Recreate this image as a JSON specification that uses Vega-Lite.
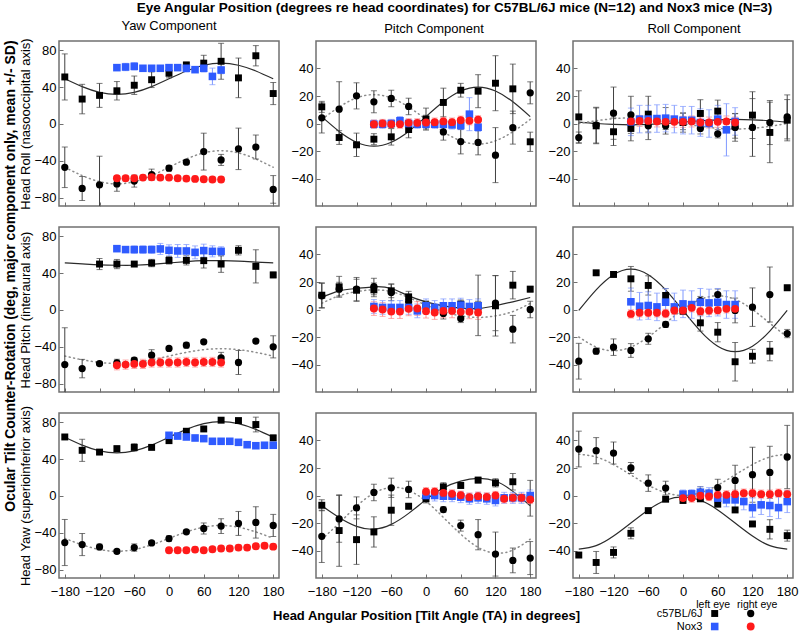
{
"$schema":"https://vega.github.io/schema/vega-lite/v6.json",
"padding":{"left":4,"right":3,"top":0,"bottom":0},
"title":{"text":"Eye Angular Position (degrees re head coordinates) for C57BL/6J mice (N=12) and Nox3 mice (N=3)","fontSize":13.5,"fontWeight":"bold","anchor":"middle","offset":5,"dx":53},
"datasets":{"d":[
{"p":"RY","g":"a","x":-180,"m":51,"s":25},{"p":"RY","g":"a","x":-150,"m":27,"s":16},{"p":"RY","g":"a","x":-120,"m":31,"s":13},{"p":"RY","g":"a","x":-90,"m":36,"s":10},{"p":"RY","g":"a","x":-60,"m":42,"s":10},{"p":"RY","g":"a","x":-30,"m":48,"s":8.5},{"p":"RY","g":"a","x":0,"m":55,"s":5},{"p":"RY","g":"a","x":30,"m":64,"s":3},{"p":"RY","g":"a","x":60,"m":66,"s":8.5},{"p":"RY","g":"a","x":90,"m":68,"s":19.5},{"p":"RY","g":"a","x":120,"m":50,"s":21.5},{"p":"RY","g":"a","x":150,"m":74,"s":11},{"p":"RY","g":"a","x":180,"m":33,"s":12},
{"p":"RY","g":"b","x":-180,"m":-47,"s":22},{"p":"RY","g":"b","x":-150,"m":-70,"s":13},{"p":"RY","g":"b","x":-120,"m":-66,"s":31},{"p":"RY","g":"b","x":-90,"m":-65,"s":8},{"p":"RY","g":"b","x":-60,"m":-62,"s":6.5},{"p":"RY","g":"b","x":-30,"m":-55,"s":6},{"p":"RY","g":"b","x":0,"m":-48,"s":3},{"p":"RY","g":"b","x":30,"m":-41.5,"s":2},{"p":"RY","g":"b","x":60,"m":-30,"s":20},{"p":"RY","g":"b","x":90,"m":-39,"s":6},{"p":"RY","g":"b","x":120,"m":-27,"s":22.5},{"p":"RY","g":"b","x":150,"m":-25,"s":13},{"p":"RY","g":"b","x":180,"m":-71,"s":15},
{"p":"RY","g":"c","x":-90,"m":61.1,"s":3},{"p":"RY","g":"c","x":-75,"m":61.8,"s":4},{"p":"RY","g":"c","x":-60,"m":62.5,"s":4},{"p":"RY","g":"c","x":-45,"m":60.4,"s":2},{"p":"RY","g":"c","x":-30,"m":60.4,"s":2},{"p":"RY","g":"c","x":-15,"m":60.4,"s":2},{"p":"RY","g":"c","x":0,"m":61.1,"s":3},{"p":"RY","g":"c","x":15,"m":61.1,"s":3},{"p":"RY","g":"c","x":30,"m":60.4,"s":4},{"p":"RY","g":"c","x":45,"m":58.9,"s":3},{"p":"RY","g":"c","x":60,"m":60.4,"s":4},{"p":"RY","g":"c","x":75,"m":51.6,"s":9},{"p":"RY","g":"c","x":90,"m":58.5,"s":4},
{"p":"RY","g":"d","x":-90,"m":-58.9,"s":3},{"p":"RY","g":"d","x":-75,"m":-58.9,"s":3},{"p":"RY","g":"d","x":-60,"m":-58.9,"s":3},{"p":"RY","g":"d","x":-45,"m":-58.2,"s":3},{"p":"RY","g":"d","x":-30,"m":-57.8,"s":3},{"p":"RY","g":"d","x":-15,"m":-58.2,"s":3},{"p":"RY","g":"d","x":0,"m":-58.2,"s":3},{"p":"RY","g":"d","x":15,"m":-58.9,"s":3},{"p":"RY","g":"d","x":30,"m":-59.3,"s":3},{"p":"RY","g":"d","x":45,"m":-59.6,"s":3},{"p":"RY","g":"d","x":60,"m":-60,"s":3},{"p":"RY","g":"d","x":75,"m":-60.3,"s":3},{"p":"RY","g":"d","x":90,"m":-60.3,"s":3},
{"p":"RY","g":"L","x":-180,"m":49},{"p":"RY","g":"L","x":-150,"m":40.5},{"p":"RY","g":"L","x":-120,"m":34.3},{"p":"RY","g":"L","x":-90,"m":32},{"p":"RY","g":"L","x":-60,"m":34.3},{"p":"RY","g":"L","x":-30,"m":40.5},{"p":"RY","g":"L","x":0,"m":49},{"p":"RY","g":"L","x":30,"m":57.5},{"p":"RY","g":"L","x":60,"m":63.7},{"p":"RY","g":"L","x":90,"m":66},{"p":"RY","g":"L","x":120,"m":63.7},{"p":"RY","g":"L","x":150,"m":57.5},{"p":"RY","g":"L","x":180,"m":49},
{"p":"RY","g":"R","x":-180,"m":-47},{"p":"RY","g":"R","x":-150,"m":-56},{"p":"RY","g":"R","x":-120,"m":-62.6},{"p":"RY","g":"R","x":-90,"m":-65},{"p":"RY","g":"R","x":-60,"m":-62.6},{"p":"RY","g":"R","x":-30,"m":-56},{"p":"RY","g":"R","x":0,"m":-47},{"p":"RY","g":"R","x":30,"m":-38},{"p":"RY","g":"R","x":60,"m":-31.4},{"p":"RY","g":"R","x":90,"m":-29},{"p":"RY","g":"R","x":120,"m":-31.4},{"p":"RY","g":"R","x":150,"m":-38},{"p":"RY","g":"R","x":180,"m":-47},

{"p":"RP","g":"a","x":-180,"m":12.1,"s":4},{"p":"RP","g":"a","x":-150,"m":-10.2,"s":5},{"p":"RP","g":"a","x":-120,"m":-15.5,"s":8.5},{"p":"RP","g":"a","x":-90,"m":-11.4,"s":4},{"p":"RP","g":"a","x":-60,"m":-9.7,"s":6},{"p":"RP","g":"a","x":-30,"m":-4.4,"s":6},{"p":"RP","g":"a","x":0,"m":3.2,"s":8},{"p":"RP","g":"a","x":30,"m":15.3,"s":10.4},{"p":"RP","g":"a","x":60,"m":24.2,"s":5},{"p":"RP","g":"a","x":90,"m":23.5,"s":12},{"p":"RP","g":"a","x":120,"m":29.3,"s":20},{"p":"RP","g":"a","x":150,"m":25.2,"s":18},{"p":"RP","g":"a","x":180,"m":-13.3,"s":7},
{"p":"RP","g":"b","x":-180,"m":4.1,"s":11},{"p":"RP","g":"b","x":-150,"m":10.4,"s":20},{"p":"RP","g":"b","x":-120,"m":20.1,"s":9.5},{"p":"RP","g":"b","x":-90,"m":15.8,"s":8},{"p":"RP","g":"b","x":-60,"m":18.2,"s":6},{"p":"RP","g":"b","x":-30,"m":12.4,"s":6},{"p":"RP","g":"b","x":0,"m":1,"s":5},{"p":"RP","g":"b","x":30,"m":-6.1,"s":6},{"p":"RP","g":"b","x":60,"m":-13.1,"s":9},{"p":"RP","g":"b","x":90,"m":-13.8,"s":9},{"p":"RP","g":"b","x":120,"m":-23,"s":20},{"p":"RP","g":"b","x":150,"m":-3,"s":12},{"p":"RP","g":"b","x":180,"m":22.3,"s":8},
{"p":"RP","g":"c","x":-90,"m":-0.5,"s":3},{"p":"RP","g":"c","x":-75,"m":-0.5,"s":3},{"p":"RP","g":"c","x":-60,"m":0,"s":3},{"p":"RP","g":"c","x":-45,"m":2,"s":3},{"p":"RP","g":"c","x":-30,"m":0,"s":3},{"p":"RP","g":"c","x":-15,"m":-0.5,"s":3},{"p":"RP","g":"c","x":0,"m":-0.5,"s":3},{"p":"RP","g":"c","x":15,"m":-0.5,"s":3},{"p":"RP","g":"c","x":30,"m":-0.5,"s":3},{"p":"RP","g":"c","x":45,"m":-1,"s":3},{"p":"RP","g":"c","x":60,"m":-1.5,"s":3},{"p":"RP","g":"c","x":75,"m":6.8,"s":12},{"p":"RP","g":"c","x":90,"m":-2.7,"s":3},
{"p":"RP","g":"d","x":-90,"m":-0.5,"s":3},{"p":"RP","g":"d","x":-75,"m":0,"s":3},{"p":"RP","g":"d","x":-60,"m":-0.5,"s":3},{"p":"RP","g":"d","x":-45,"m":-0.5,"s":3},{"p":"RP","g":"d","x":-30,"m":0.5,"s":3},{"p":"RP","g":"d","x":-15,"m":0.5,"s":3},{"p":"RP","g":"d","x":0,"m":0.7,"s":3},{"p":"RP","g":"d","x":15,"m":1,"s":3},{"p":"RP","g":"d","x":30,"m":1.5,"s":3},{"p":"RP","g":"d","x":45,"m":1,"s":3},{"p":"RP","g":"d","x":60,"m":2.4,"s":3},{"p":"RP","g":"d","x":75,"m":2,"s":3},{"p":"RP","g":"d","x":90,"m":2.7,"s":3},
{"p":"RP","g":"L","x":-180,"m":5},{"p":"RP","g":"L","x":-150,"m":-5.75},{"p":"RP","g":"L","x":-120,"m":-13.6},{"p":"RP","g":"L","x":-90,"m":-16.5},{"p":"RP","g":"L","x":-60,"m":-13.6},{"p":"RP","g":"L","x":-30,"m":-5.75},{"p":"RP","g":"L","x":0,"m":5},{"p":"RP","g":"L","x":30,"m":15.75},{"p":"RP","g":"L","x":60,"m":23.6},{"p":"RP","g":"L","x":90,"m":26.5},{"p":"RP","g":"L","x":120,"m":23.6},{"p":"RP","g":"L","x":150,"m":15.75},{"p":"RP","g":"L","x":180,"m":5},
{"p":"RP","g":"R","x":-180,"m":3},{"p":"RP","g":"R","x":-150,"m":12},{"p":"RP","g":"R","x":-120,"m":18.6},{"p":"RP","g":"R","x":-90,"m":21},{"p":"RP","g":"R","x":-60,"m":18.6},{"p":"RP","g":"R","x":-30,"m":12},{"p":"RP","g":"R","x":0,"m":3},{"p":"RP","g":"R","x":30,"m":-6},{"p":"RP","g":"R","x":60,"m":-12.6},{"p":"RP","g":"R","x":90,"m":-15},{"p":"RP","g":"R","x":120,"m":-12.6},{"p":"RP","g":"R","x":150,"m":-6},{"p":"RP","g":"R","x":180,"m":3},

{"p":"RR","g":"a","x":-180,"m":4.8,"s":19},{"p":"RR","g":"a","x":-150,"m":-1.7,"s":13},{"p":"RR","g":"a","x":-120,"m":-6,"s":10},{"p":"RR","g":"a","x":-90,"m":-3.6,"s":9},{"p":"RR","g":"a","x":-60,"m":6.8,"s":13},{"p":"RR","g":"a","x":-30,"m":3.6,"s":8},{"p":"RR","g":"a","x":0,"m":0.7,"s":7},{"p":"RR","g":"a","x":30,"m":7.3,"s":10},{"p":"RR","g":"a","x":60,"m":9,"s":8},{"p":"RR","g":"a","x":90,"m":-1.7,"s":9},{"p":"RR","g":"a","x":120,"m":6.1,"s":17},{"p":"RR","g":"a","x":150,"m":-6.5,"s":22},{"p":"RR","g":"a","x":180,"m":2.4,"s":15},
{"p":"RR","g":"b","x":-180,"m":-10.2,"s":4},{"p":"RR","g":"b","x":-150,"m":-1.2,"s":13},{"p":"RR","g":"b","x":-120,"m":7.5,"s":19},{"p":"RR","g":"b","x":-90,"m":6.3,"s":13.5},{"p":"RR","g":"b","x":-60,"m":-1.7,"s":10},{"p":"RR","g":"b","x":-30,"m":-1.7,"s":6},{"p":"RR","g":"b","x":0,"m":1.5,"s":6},{"p":"RR","g":"b","x":30,"m":-3.6,"s":4},{"p":"RR","g":"b","x":60,"m":-7.5,"s":3},{"p":"RR","g":"b","x":90,"m":-2.9,"s":10},{"p":"RR","g":"b","x":120,"m":-2.9,"s":21},{"p":"RR","g":"b","x":150,"m":0.7,"s":16},{"p":"RR","g":"b","x":180,"m":4.8,"s":16},
{"p":"RR","g":"c","x":-90,"m":1.2,"s":10},{"p":"RR","g":"c","x":-75,"m":3.2,"s":10},{"p":"RR","g":"c","x":-60,"m":3.2,"s":10},{"p":"RR","g":"c","x":-45,"m":3.6,"s":10},{"p":"RR","g":"c","x":-30,"m":3.9,"s":10},{"p":"RR","g":"c","x":-15,"m":3.2,"s":10},{"p":"RR","g":"c","x":0,"m":2.4,"s":10},{"p":"RR","g":"c","x":15,"m":2.4,"s":10},{"p":"RR","g":"c","x":30,"m":0.7,"s":10},{"p":"RR","g":"c","x":45,"m":0,"s":10},{"p":"RR","g":"c","x":60,"m":3.2,"s":10},{"p":"RR","g":"c","x":75,"m":-4.6,"s":19},{"p":"RR","g":"c","x":90,"m":1.5,"s":10},
{"p":"RR","g":"d","x":-90,"m":1.5,"s":4},{"p":"RR","g":"d","x":-75,"m":1.9,"s":4},{"p":"RR","g":"d","x":-60,"m":1.9,"s":4},{"p":"RR","g":"d","x":-45,"m":1.5,"s":4},{"p":"RR","g":"d","x":-30,"m":1.2,"s":4},{"p":"RR","g":"d","x":-15,"m":1.2,"s":4},{"p":"RR","g":"d","x":0,"m":1.2,"s":4},{"p":"RR","g":"d","x":15,"m":1.5,"s":4},{"p":"RR","g":"d","x":30,"m":0.7,"s":4},{"p":"RR","g":"d","x":45,"m":0.7,"s":4},{"p":"RR","g":"d","x":60,"m":1.2,"s":4},{"p":"RR","g":"d","x":75,"m":1.5,"s":4},{"p":"RR","g":"d","x":90,"m":0.7,"s":4},
{"p":"RR","g":"L","x":-180,"m":1},{"p":"RR","g":"L","x":-150,"m":0},{"p":"RR","g":"L","x":-120,"m":-0.7},{"p":"RR","g":"L","x":-90,"m":-1},{"p":"RR","g":"L","x":-60,"m":-0.7},{"p":"RR","g":"L","x":-30,"m":0},{"p":"RR","g":"L","x":0,"m":1},{"p":"RR","g":"L","x":30,"m":2},{"p":"RR","g":"L","x":60,"m":2.7},{"p":"RR","g":"L","x":90,"m":3},{"p":"RR","g":"L","x":120,"m":2.7},{"p":"RR","g":"L","x":150,"m":2},{"p":"RR","g":"L","x":180,"m":1},
{"p":"RR","g":"R","x":-180,"m":0},{"p":"RR","g":"R","x":-150,"m":2},{"p":"RR","g":"R","x":-120,"m":3.5},{"p":"RR","g":"R","x":-90,"m":4},{"p":"RR","g":"R","x":-60,"m":3.5},{"p":"RR","g":"R","x":-30,"m":2},{"p":"RR","g":"R","x":0,"m":0},{"p":"RR","g":"R","x":30,"m":-2},{"p":"RR","g":"R","x":60,"m":-3.5},{"p":"RR","g":"R","x":90,"m":-4},{"p":"RR","g":"R","x":120,"m":-3.5},{"p":"RR","g":"R","x":150,"m":-2},{"p":"RR","g":"R","x":180,"m":0},

{"p":"PY","g":"a","x":-120,"m":49.8,"s":6},{"p":"PY","g":"a","x":-90,"m":49.8,"s":5},{"p":"PY","g":"a","x":-60,"m":49.8,"s":2},{"p":"PY","g":"a","x":-30,"m":50.9,"s":4},{"p":"PY","g":"a","x":0,"m":53.8,"s":4},{"p":"PY","g":"a","x":30,"m":53.8,"s":5},{"p":"PY","g":"a","x":60,"m":53.5,"s":8},{"p":"PY","g":"a","x":90,"m":49.8,"s":9},{"p":"PY","g":"a","x":120,"m":64.7,"s":5},{"p":"PY","g":"a","x":150,"m":47.3,"s":18},{"p":"PY","g":"a","x":180,"m":38,"s":3},
{"p":"PY","g":"b","x":-180,"m":-59.3,"s":40},{"p":"PY","g":"b","x":-150,"m":-63.6,"s":10},{"p":"PY","g":"b","x":-120,"m":-58.2,"s":2},{"p":"PY","g":"b","x":-90,"m":-57.5,"s":4},{"p":"PY","g":"b","x":-60,"m":-54.5,"s":3},{"p":"PY","g":"b","x":-30,"m":-49.1,"s":6},{"p":"PY","g":"b","x":0,"m":-41.8,"s":2},{"p":"PY","g":"b","x":30,"m":-38.2,"s":3},{"p":"PY","g":"b","x":60,"m":-34.5,"s":2},{"p":"PY","g":"b","x":90,"m":-52,"s":6},{"p":"PY","g":"b","x":120,"m":-57,"s":13},{"p":"PY","g":"b","x":150,"m":-33.8,"s":2},{"p":"PY","g":"b","x":180,"m":-40,"s":12},
{"p":"PY","g":"c","x":-90,"m":66.5,"s":3},{"p":"PY","g":"c","x":-75,"m":65.5,"s":3},{"p":"PY","g":"c","x":-60,"m":65.5,"s":4},{"p":"PY","g":"c","x":-45,"m":65.5,"s":4},{"p":"PY","g":"c","x":-30,"m":65.5,"s":4},{"p":"PY","g":"c","x":-15,"m":66.2,"s":6},{"p":"PY","g":"c","x":0,"m":64.7,"s":6},{"p":"PY","g":"c","x":15,"m":64,"s":7},{"p":"PY","g":"c","x":30,"m":64,"s":7},{"p":"PY","g":"c","x":45,"m":62.5,"s":7},{"p":"PY","g":"c","x":60,"m":64.4,"s":7},{"p":"PY","g":"c","x":75,"m":63.6,"s":6},{"p":"PY","g":"c","x":90,"m":63.6,"s":5},
{"p":"PY","g":"d","x":-90,"m":-60,"s":5},{"p":"PY","g":"d","x":-75,"m":-59.3,"s":5},{"p":"PY","g":"d","x":-60,"m":-58.5,"s":5},{"p":"PY","g":"d","x":-45,"m":-58.5,"s":5},{"p":"PY","g":"d","x":-30,"m":-57,"s":5},{"p":"PY","g":"d","x":-15,"m":-57,"s":5},{"p":"PY","g":"d","x":0,"m":-57,"s":5},{"p":"PY","g":"d","x":15,"m":-57,"s":5},{"p":"PY","g":"d","x":30,"m":-56.4,"s":5},{"p":"PY","g":"d","x":45,"m":-57,"s":5},{"p":"PY","g":"d","x":60,"m":-56.4,"s":5},{"p":"PY","g":"d","x":75,"m":-56.4,"s":5},{"p":"PY","g":"d","x":90,"m":-57,"s":5},
{"p":"PY","g":"L","x":-180,"m":51},{"p":"PY","g":"L","x":-150,"m":50},{"p":"PY","g":"L","x":-120,"m":49},{"p":"PY","g":"L","x":-90,"m":48.5},{"p":"PY","g":"L","x":-60,"m":48.5},{"p":"PY","g":"L","x":-30,"m":49.5},{"p":"PY","g":"L","x":0,"m":51},{"p":"PY","g":"L","x":30,"m":52.5},{"p":"PY","g":"L","x":60,"m":53.5},{"p":"PY","g":"L","x":90,"m":53.5},{"p":"PY","g":"L","x":120,"m":53},{"p":"PY","g":"L","x":150,"m":52},{"p":"PY","g":"L","x":180,"m":51},
{"p":"PY","g":"R","x":-180,"m":-50},{"p":"PY","g":"R","x":-150,"m":-54},{"p":"PY","g":"R","x":-120,"m":-56.9},{"p":"PY","g":"R","x":-90,"m":-58},{"p":"PY","g":"R","x":-60,"m":-56.9},{"p":"PY","g":"R","x":-30,"m":-54},{"p":"PY","g":"R","x":0,"m":-50},{"p":"PY","g":"R","x":30,"m":-46},{"p":"PY","g":"R","x":60,"m":-43.1},{"p":"PY","g":"R","x":90,"m":-42},{"p":"PY","g":"R","x":120,"m":-43.1},{"p":"PY","g":"R","x":150,"m":-46},{"p":"PY","g":"R","x":180,"m":-50},

{"p":"PP","g":"a","x":-180,"m":10.4,"s":9},{"p":"PP","g":"a","x":-150,"m":16.5,"s":7.6},{"p":"PP","g":"a","x":-120,"m":14,"s":8},{"p":"PP","g":"a","x":-90,"m":14.3,"s":5},{"p":"PP","g":"a","x":-60,"m":13.6,"s":5},{"p":"PP","g":"a","x":-30,"m":9.2,"s":4},{"p":"PP","g":"a","x":0,"m":3.2,"s":3},{"p":"PP","g":"a","x":30,"m":1.5,"s":3},{"p":"PP","g":"a","x":60,"m":3.9,"s":3},{"p":"PP","g":"a","x":90,"m":3,"s":22},{"p":"PP","g":"a","x":120,"m":2.7,"s":22},{"p":"PP","g":"a","x":150,"m":17.7,"s":10},{"p":"PP","g":"a","x":180,"m":14.8,"s":2},
{"p":"PP","g":"b","x":-180,"m":10,"s":9},{"p":"PP","g":"b","x":-150,"m":14.8,"s":5},{"p":"PP","g":"b","x":-120,"m":14.8,"s":8.5},{"p":"PP","g":"b","x":-90,"m":16.7,"s":6},{"p":"PP","g":"b","x":-60,"m":12.4,"s":6},{"p":"PP","g":"b","x":-30,"m":5.6,"s":4},{"p":"PP","g":"b","x":0,"m":2.7,"s":3},{"p":"PP","g":"b","x":30,"m":-2.9,"s":4},{"p":"PP","g":"b","x":60,"m":-6.5,"s":3},{"p":"PP","g":"b","x":90,"m":1,"s":5},{"p":"PP","g":"b","x":120,"m":4.6,"s":20},{"p":"PP","g":"b","x":150,"m":-14.3,"s":10},{"p":"PP","g":"b","x":180,"m":0,"s":6},
{"p":"PP","g":"c","x":-90,"m":2.2,"s":5},{"p":"PP","g":"c","x":-75,"m":1.5,"s":5},{"p":"PP","g":"c","x":-60,"m":1.5,"s":5},{"p":"PP","g":"c","x":-45,"m":1.5,"s":5},{"p":"PP","g":"c","x":-30,"m":1.5,"s":5},{"p":"PP","g":"c","x":-15,"m":-1,"s":5},{"p":"PP","g":"c","x":0,"m":2.7,"s":5},{"p":"PP","g":"c","x":15,"m":1.5,"s":5},{"p":"PP","g":"c","x":30,"m":2.7,"s":5},{"p":"PP","g":"c","x":45,"m":2.7,"s":5},{"p":"PP","g":"c","x":60,"m":3.2,"s":5},{"p":"PP","g":"c","x":75,"m":2.2,"s":5},{"p":"PP","g":"c","x":90,"m":2.7,"s":5},
{"p":"PP","g":"d","x":-90,"m":0.7,"s":5},{"p":"PP","g":"d","x":-75,"m":0,"s":5},{"p":"PP","g":"d","x":-60,"m":-1.5,"s":5},{"p":"PP","g":"d","x":-45,"m":-1.5,"s":5},{"p":"PP","g":"d","x":-30,"m":0.5,"s":5},{"p":"PP","g":"d","x":-15,"m":0.7,"s":5},{"p":"PP","g":"d","x":0,"m":-1.2,"s":5},{"p":"PP","g":"d","x":15,"m":-2.2,"s":5},{"p":"PP","g":"d","x":30,"m":-1,"s":5},{"p":"PP","g":"d","x":45,"m":-1,"s":5},{"p":"PP","g":"d","x":60,"m":-1.7,"s":5},{"p":"PP","g":"d","x":75,"m":-1.7,"s":5},{"p":"PP","g":"d","x":90,"m":-2.2,"s":5},
{"p":"PP","g":"L","x":-180,"m":8.7},{"p":"PP","g":"L","x":-150,"m":13.6},{"p":"PP","g":"L","x":-120,"m":15.3},{"p":"PP","g":"L","x":-90,"m":16.5},{"p":"PP","g":"L","x":-60,"m":15.3},{"p":"PP","g":"L","x":-30,"m":9.9},{"p":"PP","g":"L","x":0,"m":5.6},{"p":"PP","g":"L","x":30,"m":2.7},{"p":"PP","g":"L","x":60,"m":1},{"p":"PP","g":"L","x":90,"m":0.7},{"p":"PP","g":"L","x":120,"m":2.7},{"p":"PP","g":"L","x":150,"m":5.6},{"p":"PP","g":"L","x":180,"m":8.7},
{"p":"PP","g":"R","x":-180,"m":4.5},{"p":"PP","g":"R","x":-150,"m":10},{"p":"PP","g":"R","x":-120,"m":13},{"p":"PP","g":"R","x":-90,"m":14.3},{"p":"PP","g":"R","x":-60,"m":13},{"p":"PP","g":"R","x":-30,"m":8.7},{"p":"PP","g":"R","x":0,"m":3.2},{"p":"PP","g":"R","x":30,"m":-1.5},{"p":"PP","g":"R","x":60,"m":-4.6},{"p":"PP","g":"R","x":90,"m":-5.8},{"p":"PP","g":"R","x":120,"m":-4.6},{"p":"PP","g":"R","x":150,"m":-1.5},{"p":"PP","g":"R","x":180,"m":4.5},

{"p":"PR","g":"a","x":-150,"m":26.7,"s":1},{"p":"PR","g":"a","x":-120,"m":25.5,"s":2},{"p":"PR","g":"a","x":-90,"m":22.3,"s":9},{"p":"PR","g":"a","x":-60,"m":17.5,"s":7},{"p":"PR","g":"a","x":-30,"m":10.2,"s":5},{"p":"PR","g":"a","x":0,"m":-1.2,"s":2},{"p":"PR","g":"a","x":30,"m":-9.7,"s":6},{"p":"PR","g":"a","x":60,"m":-16.5,"s":7},{"p":"PR","g":"a","x":90,"m":-38,"s":14},{"p":"PR","g":"a","x":120,"m":-34,"s":5},{"p":"PR","g":"a","x":150,"m":-30.3,"s":7},{"p":"PR","g":"a","x":180,"m":15.8,"s":2},
{"p":"PR","g":"b","x":-180,"m":-37.6,"s":13},{"p":"PR","g":"b","x":-150,"m":-30.3,"s":2},{"p":"PR","g":"b","x":-120,"m":-27.4,"s":6},{"p":"PR","g":"b","x":-90,"m":-29.8,"s":5},{"p":"PR","g":"b","x":-60,"m":-21.3,"s":4},{"p":"PR","g":"b","x":-30,"m":-10.9,"s":2},{"p":"PR","g":"b","x":0,"m":-0.7,"s":2},{"p":"PR","g":"b","x":30,"m":6.5,"s":3},{"p":"PR","g":"b","x":60,"m":10.9,"s":4},{"p":"PR","g":"b","x":90,"m":-0.7,"s":9},{"p":"PR","g":"b","x":120,"m":1.7,"s":14},{"p":"PR","g":"b","x":150,"m":10.9,"s":20},{"p":"PR","g":"b","x":180,"m":-17.5,"s":3},
{"p":"PR","g":"c","x":-90,"m":5.6,"s":10},{"p":"PR","g":"c","x":-75,"m":2.4,"s":10},{"p":"PR","g":"c","x":-60,"m":2.9,"s":10},{"p":"PR","g":"c","x":-45,"m":1.9,"s":10},{"p":"PR","g":"c","x":-30,"m":5.3,"s":10},{"p":"PR","g":"c","x":-15,"m":1.9,"s":10},{"p":"PR","g":"c","x":0,"m":4.1,"s":10},{"p":"PR","g":"c","x":15,"m":3.6,"s":10},{"p":"PR","g":"c","x":30,"m":5.3,"s":10},{"p":"PR","g":"c","x":45,"m":4.8,"s":10},{"p":"PR","g":"c","x":60,"m":5.3,"s":10},{"p":"PR","g":"c","x":75,"m":3.6,"s":10},{"p":"PR","g":"c","x":90,"m":3.6,"s":10},
{"p":"PR","g":"d","x":-90,"m":-3.2,"s":3},{"p":"PR","g":"d","x":-75,"m":-2.4,"s":3},{"p":"PR","g":"d","x":-60,"m":-2.4,"s":3},{"p":"PR","g":"d","x":-45,"m":-2.4,"s":3},{"p":"PR","g":"d","x":-30,"m":-2.9,"s":3},{"p":"PR","g":"d","x":-15,"m":-0.7,"s":3},{"p":"PR","g":"d","x":0,"m":-0.7,"s":3},{"p":"PR","g":"d","x":15,"m":1.2,"s":3},{"p":"PR","g":"d","x":30,"m":-1.2,"s":3},{"p":"PR","g":"d","x":45,"m":-0.7,"s":3},{"p":"PR","g":"d","x":60,"m":-0.5,"s":3},{"p":"PR","g":"d","x":75,"m":0.5,"s":3},{"p":"PR","g":"d","x":90,"m":0.5,"s":3},
{"p":"PR","g":"L","x":-180,"m":-0.7},{"p":"PR","g":"L","x":-150,"m":14.3},{"p":"PR","g":"L","x":-120,"m":25.3},{"p":"PR","g":"L","x":-90,"m":29.3},{"p":"PR","g":"L","x":-60,"m":25.3},{"p":"PR","g":"L","x":-30,"m":14.3},{"p":"PR","g":"L","x":0,"m":-0.7},{"p":"PR","g":"L","x":30,"m":-15.7},{"p":"PR","g":"L","x":60,"m":-26.7},{"p":"PR","g":"L","x":90,"m":-30.7},{"p":"PR","g":"L","x":120,"m":-26.7},{"p":"PR","g":"L","x":150,"m":-15.7},{"p":"PR","g":"L","x":180,"m":-0.7},
{"p":"PR","g":"R","x":-180,"m":-20},{"p":"PR","g":"R","x":-150,"m":-27.3},{"p":"PR","g":"R","x":-120,"m":-30},{"p":"PR","g":"R","x":-90,"m":-27.3},{"p":"PR","g":"R","x":-60,"m":-20},{"p":"PR","g":"R","x":-30,"m":-10},{"p":"PR","g":"R","x":0,"m":0},{"p":"PR","g":"R","x":30,"m":7.3},{"p":"PR","g":"R","x":60,"m":10},{"p":"PR","g":"R","x":90,"m":7.3},{"p":"PR","g":"R","x":120,"m":0},{"p":"PR","g":"R","x":150,"m":-10},{"p":"PR","g":"R","x":180,"m":-20},

{"p":"YY","g":"a","x":-180,"m":64,"s":2},{"p":"YY","g":"a","x":-150,"m":49.5,"s":12},{"p":"YY","g":"a","x":-120,"m":47.6,"s":2},{"p":"YY","g":"a","x":-90,"m":51.3,"s":3},{"p":"YY","g":"a","x":-60,"m":52.7,"s":4},{"p":"YY","g":"a","x":-30,"m":52.7,"s":2},{"p":"YY","g":"a","x":0,"m":60,"s":3},{"p":"YY","g":"a","x":30,"m":70.2,"s":2},{"p":"YY","g":"a","x":60,"m":72.7,"s":2},{"p":"YY","g":"a","x":90,"m":82.2,"s":2},{"p":"YY","g":"a","x":120,"m":81.8,"s":2},{"p":"YY","g":"a","x":150,"m":77.5,"s":8},{"p":"YY","g":"a","x":180,"m":63,"s":3},
{"p":"YY","g":"b","x":-180,"m":-50.5,"s":25},{"p":"YY","g":"b","x":-150,"m":-52.7,"s":12},{"p":"YY","g":"b","x":-120,"m":-55.3,"s":3},{"p":"YY","g":"b","x":-90,"m":-60,"s":2},{"p":"YY","g":"b","x":-60,"m":-56,"s":4},{"p":"YY","g":"b","x":-30,"m":-50.9,"s":2},{"p":"YY","g":"b","x":0,"m":-46.2,"s":3},{"p":"YY","g":"b","x":30,"m":-38.9,"s":2},{"p":"YY","g":"b","x":60,"m":-35.3,"s":6},{"p":"YY","g":"b","x":90,"m":-32.7,"s":8},{"p":"YY","g":"b","x":120,"m":-29.8,"s":13},{"p":"YY","g":"b","x":150,"m":-28.7,"s":17},{"p":"YY","g":"b","x":180,"m":-32,"s":12},
{"p":"YY","g":"c","x":0,"m":65.8,"s":3},{"p":"YY","g":"c","x":15,"m":65,"s":3},{"p":"YY","g":"c","x":30,"m":64,"s":3},{"p":"YY","g":"c","x":45,"m":62.9,"s":3},{"p":"YY","g":"c","x":60,"m":62.2,"s":3},{"p":"YY","g":"c","x":75,"m":59.3,"s":3},{"p":"YY","g":"c","x":90,"m":59.3,"s":3},{"p":"YY","g":"c","x":105,"m":59.3,"s":3},{"p":"YY","g":"c","x":120,"m":58.2,"s":3},{"p":"YY","g":"c","x":135,"m":55.6,"s":3},{"p":"YY","g":"c","x":150,"m":54.5,"s":3},{"p":"YY","g":"c","x":165,"m":55,"s":3},{"p":"YY","g":"c","x":180,"m":55,"s":3},
{"p":"YY","g":"d","x":0,"m":-58.9,"s":3},{"p":"YY","g":"d","x":15,"m":-58.9,"s":3},{"p":"YY","g":"d","x":30,"m":-58.9,"s":3},{"p":"YY","g":"d","x":45,"m":-58.2,"s":3},{"p":"YY","g":"d","x":60,"m":-58.9,"s":3},{"p":"YY","g":"d","x":75,"m":-57.8,"s":3},{"p":"YY","g":"d","x":90,"m":-57,"s":3},{"p":"YY","g":"d","x":105,"m":-57,"s":3},{"p":"YY","g":"d","x":120,"m":-56,"s":3},{"p":"YY","g":"d","x":135,"m":-56,"s":3},{"p":"YY","g":"d","x":150,"m":-54.5,"s":3},{"p":"YY","g":"d","x":165,"m":-54,"s":3},{"p":"YY","g":"d","x":180,"m":-55,"s":3},
{"p":"YY","g":"L","x":-180,"m":63.7},{"p":"YY","g":"L","x":-150,"m":55.2},{"p":"YY","g":"L","x":-120,"m":49},{"p":"YY","g":"L","x":-90,"m":46.7},{"p":"YY","g":"L","x":-60,"m":49},{"p":"YY","g":"L","x":-30,"m":55.2},{"p":"YY","g":"L","x":0,"m":63.7},{"p":"YY","g":"L","x":30,"m":72.2},{"p":"YY","g":"L","x":60,"m":78.4},{"p":"YY","g":"L","x":90,"m":80.7},{"p":"YY","g":"L","x":120,"m":78.4},{"p":"YY","g":"L","x":150,"m":72.2},{"p":"YY","g":"L","x":180,"m":63.7},
{"p":"YY","g":"R","x":-180,"m":-46},{"p":"YY","g":"R","x":-150,"m":-53},{"p":"YY","g":"R","x":-120,"m":-58.1},{"p":"YY","g":"R","x":-90,"m":-60},{"p":"YY","g":"R","x":-60,"m":-58.1},{"p":"YY","g":"R","x":-30,"m":-53},{"p":"YY","g":"R","x":0,"m":-46},{"p":"YY","g":"R","x":30,"m":-39},{"p":"YY","g":"R","x":60,"m":-33.9},{"p":"YY","g":"R","x":90,"m":-32},{"p":"YY","g":"R","x":120,"m":-33.9},{"p":"YY","g":"R","x":150,"m":-39},{"p":"YY","g":"R","x":180,"m":-46},

{"p":"YP","g":"a","x":-180,"m":-7.1,"s":4},{"p":"YP","g":"a","x":-150,"m":-25.5,"s":26},{"p":"YP","g":"a","x":-120,"m":-32.1,"s":18},{"p":"YP","g":"a","x":-90,"m":-26.5,"s":11},{"p":"YP","g":"a","x":-60,"m":-10.7,"s":11},{"p":"YP","g":"a","x":-30,"m":-7.8,"s":2},{"p":"YP","g":"a","x":0,"m":-2.4,"s":3},{"p":"YP","g":"a","x":30,"m":6.3,"s":3},{"p":"YP","g":"a","x":60,"m":7.3,"s":2},{"p":"YP","g":"a","x":90,"m":11.2,"s":2},{"p":"YP","g":"a","x":120,"m":9.2,"s":3},{"p":"YP","g":"a","x":150,"m":10,"s":6},{"p":"YP","g":"a","x":180,"m":-2,"s":13},
{"p":"YP","g":"b","x":-180,"m":-29.7,"s":19},{"p":"YP","g":"b","x":-150,"m":-17,"s":17},{"p":"YP","g":"b","x":-120,"m":-9,"s":8},{"p":"YP","g":"b","x":-90,"m":2.2,"s":6},{"p":"YP","g":"b","x":-60,"m":5.6,"s":7},{"p":"YP","g":"b","x":-30,"m":4.4,"s":6},{"p":"YP","g":"b","x":0,"m":-1,"s":3},{"p":"YP","g":"b","x":30,"m":-10.2,"s":2},{"p":"YP","g":"b","x":60,"m":-21.9,"s":4},{"p":"YP","g":"b","x":90,"m":-28.5,"s":11},{"p":"YP","g":"b","x":120,"m":-42.6,"s":16},{"p":"YP","g":"b","x":150,"m":-47.2,"s":9},{"p":"YP","g":"b","x":180,"m":-45.5,"s":12},
{"p":"YP","g":"c","x":0,"m":0,"s":4},{"p":"YP","g":"c","x":15,"m":0,"s":4},{"p":"YP","g":"c","x":30,"m":-0.5,"s":4},{"p":"YP","g":"c","x":45,"m":-0.5,"s":4},{"p":"YP","g":"c","x":60,"m":-1.2,"s":4},{"p":"YP","g":"c","x":75,"m":-2.4,"s":4},{"p":"YP","g":"c","x":90,"m":-1.7,"s":4},{"p":"YP","g":"c","x":105,"m":-2.4,"s":4},{"p":"YP","g":"c","x":120,"m":-3.6,"s":4},{"p":"YP","g":"c","x":135,"m":-1.7,"s":4},{"p":"YP","g":"c","x":150,"m":-1.7,"s":4},{"p":"YP","g":"c","x":165,"m":-1.7,"s":4},{"p":"YP","g":"c","x":180,"m":0,"s":4},
{"p":"YP","g":"d","x":0,"m":2.7,"s":3},{"p":"YP","g":"d","x":15,"m":2.7,"s":3},{"p":"YP","g":"d","x":30,"m":1.9,"s":3},{"p":"YP","g":"d","x":45,"m":1.2,"s":3},{"p":"YP","g":"d","x":60,"m":0.2,"s":3},{"p":"YP","g":"d","x":75,"m":-1.2,"s":3},{"p":"YP","g":"d","x":90,"m":-0.5,"s":3},{"p":"YP","g":"d","x":105,"m":-1,"s":3},{"p":"YP","g":"d","x":120,"m":0,"s":3},{"p":"YP","g":"d","x":135,"m":-2.4,"s":3},{"p":"YP","g":"d","x":150,"m":-1.7,"s":3},{"p":"YP","g":"d","x":165,"m":-1.7,"s":3},{"p":"YP","g":"d","x":180,"m":-2.9,"s":3},
{"p":"YP","g":"L","x":-180,"m":-7.5},{"p":"YP","g":"L","x":-150,"m":-16},{"p":"YP","g":"L","x":-120,"m":-22.5},{"p":"YP","g":"L","x":-90,"m":-24.5},{"p":"YP","g":"L","x":-60,"m":-21},{"p":"YP","g":"L","x":-30,"m":-13},{"p":"YP","g":"L","x":0,"m":-3},{"p":"YP","g":"L","x":30,"m":5.5},{"p":"YP","g":"L","x":60,"m":10.5},{"p":"YP","g":"L","x":90,"m":12.5},{"p":"YP","g":"L","x":120,"m":10.5},{"p":"YP","g":"L","x":150,"m":3},{"p":"YP","g":"L","x":180,"m":-7.5},
{"p":"YP","g":"R","x":-180,"m":-31.8},{"p":"YP","g":"R","x":-150,"m":-20.1},{"p":"YP","g":"R","x":-120,"m":-7.8},{"p":"YP","g":"R","x":-90,"m":1.7},{"p":"YP","g":"R","x":-60,"m":5.9},{"p":"YP","g":"R","x":-30,"m":3.7},{"p":"YP","g":"R","x":0,"m":-4.2},{"p":"YP","g":"R","x":30,"m":-15.9},{"p":"YP","g":"R","x":60,"m":-28.1},{"p":"YP","g":"R","x":90,"m":-37.7},{"p":"YP","g":"R","x":120,"m":-41.9},{"p":"YP","g":"R","x":150,"m":-39.7},{"p":"YP","g":"R","x":180,"m":-31.8},

{"p":"YR","g":"a","x":-180,"m":-43.3,"s":1},{"p":"YR","g":"a","x":-150,"m":-48.7,"s":8},{"p":"YR","g":"a","x":-120,"m":-41.4,"s":4},{"p":"YR","g":"a","x":-90,"m":-27.5,"s":4},{"p":"YR","g":"a","x":-60,"m":-11,"s":1},{"p":"YR","g":"a","x":-30,"m":-2.7,"s":1},{"p":"YR","g":"a","x":0,"m":-3.6,"s":2},{"p":"YR","g":"a","x":30,"m":-2.4,"s":2},{"p":"YR","g":"a","x":60,"m":-6.3,"s":1},{"p":"YR","g":"a","x":90,"m":-10.5,"s":1},{"p":"YR","g":"a","x":120,"m":-20.7,"s":1},{"p":"YR","g":"a","x":150,"m":-24.6,"s":7},{"p":"YR","g":"a","x":180,"m":-29.2,"s":4},
{"p":"YR","g":"b","x":-180,"m":33.8,"s":13},{"p":"YR","g":"b","x":-150,"m":32.6,"s":9.5},{"p":"YR","g":"b","x":-120,"m":30.9,"s":8},{"p":"YR","g":"b","x":-90,"m":20,"s":4},{"p":"YR","g":"b","x":-60,"m":9,"s":6},{"p":"YR","g":"b","x":-30,"m":5.4,"s":5},{"p":"YR","g":"b","x":0,"m":-0.7,"s":3},{"p":"YR","g":"b","x":30,"m":2.4,"s":4},{"p":"YR","g":"b","x":60,"m":5.8,"s":6},{"p":"YR","g":"b","x":90,"m":11,"s":11},{"p":"YR","g":"b","x":120,"m":15.1,"s":20},{"p":"YR","g":"b","x":150,"m":16.8,"s":19},{"p":"YR","g":"b","x":180,"m":28,"s":23},
{"p":"YR","g":"c","x":0,"m":1,"s":3},{"p":"YR","g":"c","x":15,"m":1.2,"s":3},{"p":"YR","g":"c","x":30,"m":2.4,"s":4},{"p":"YR","g":"c","x":45,"m":1.7,"s":4},{"p":"YR","g":"c","x":60,"m":-1.9,"s":5},{"p":"YR","g":"c","x":75,"m":-3.2,"s":5},{"p":"YR","g":"c","x":90,"m":-3.2,"s":6},{"p":"YR","g":"c","x":105,"m":-4.4,"s":6},{"p":"YR","g":"c","x":120,"m":-8.8,"s":7},{"p":"YR","g":"c","x":135,"m":-6.8,"s":7},{"p":"YR","g":"c","x":150,"m":-7.3,"s":8},{"p":"YR","g":"c","x":165,"m":-8.8,"s":8},{"p":"YR","g":"c","x":180,"m":-4.4,"s":8},
{"p":"YR","g":"d","x":0,"m":-1.9,"s":3},{"p":"YR","g":"d","x":15,"m":-1.9,"s":3},{"p":"YR","g":"d","x":30,"m":-0.2,"s":3},{"p":"YR","g":"d","x":45,"m":-0.7,"s":3},{"p":"YR","g":"d","x":60,"m":0.5,"s":3},{"p":"YR","g":"d","x":75,"m":0.5,"s":3},{"p":"YR","g":"d","x":90,"m":1,"s":3},{"p":"YR","g":"d","x":105,"m":1.7,"s":3},{"p":"YR","g":"d","x":120,"m":1.7,"s":3},{"p":"YR","g":"d","x":135,"m":1,"s":3},{"p":"YR","g":"d","x":150,"m":1,"s":3},{"p":"YR","g":"d","x":165,"m":1.7,"s":3},{"p":"YR","g":"d","x":180,"m":1,"s":3},
{"p":"YR","g":"L","x":-180,"m":-39},{"p":"YR","g":"L","x":-150,"m":-36.5},{"p":"YR","g":"L","x":-120,"m":-29.5},{"p":"YR","g":"L","x":-90,"m":-20},{"p":"YR","g":"L","x":-60,"m":-10.5},{"p":"YR","g":"L","x":-30,"m":-3.5},{"p":"YR","g":"L","x":0,"m":-1},{"p":"YR","g":"L","x":30,"m":-3.5},{"p":"YR","g":"L","x":60,"m":-10.5},{"p":"YR","g":"L","x":90,"m":-20},{"p":"YR","g":"L","x":120,"m":-29.5},{"p":"YR","g":"L","x":150,"m":-36.5},{"p":"YR","g":"L","x":180,"m":-39},
{"p":"YR","g":"R","x":-180,"m":30},{"p":"YR","g":"R","x":-150,"m":28},{"p":"YR","g":"R","x":-120,"m":22.5},{"p":"YR","g":"R","x":-90,"m":15},{"p":"YR","g":"R","x":-60,"m":7.5},{"p":"YR","g":"R","x":-30,"m":2},{"p":"YR","g":"R","x":0,"m":0},{"p":"YR","g":"R","x":30,"m":2},{"p":"YR","g":"R","x":60,"m":7.5},{"p":"YR","g":"R","x":90,"m":15},{"p":"YR","g":"R","x":120,"m":22.5},{"p":"YR","g":"R","x":150,"m":28},{"p":"YR","g":"R","x":180,"m":30}
]},
"bounds":"full",
"vconcat":[
{"title":{"text":"Ocular Tilt Counter-Rotation (deg, major component only, mean +/- SD)","orient":"left","anchor":"middle","fontSize":14,"fontWeight":"bold","offset":1,"dx":50},
 "columns":3,"spacing":{"row":21,"column":37},"bounds":"flush",
 "concat":[
 {"width":220,"height":165,"data":{"name":"d"},"transform":[{"filter":"datum.p=='RY'"}],"title":{"text":"Yaw Component"},
  "encoding":{"x":{"field":"x","type":"quantitative","scale":{"domain":[-190,190],"nice":false,"zero":false},"axis":{"values":[-180,-120,-60,0,60,120,180],"labels":false,"title":null}},
   "y":{"field":"m","type":"quantitative","scale":{"domain":[-89,90],"nice":false,"zero":false},"axis":{"values":[-80,-40,0,40,80],"title":"Head Roll (nasooccipital axis)"}}},
  "layer":[
   {"transform":[{"filter":"datum.g=='L'"}],"mark":{"type":"line","interpolate":"natural","color":"#2b2b2b","strokeWidth":1.2,"clip":true}},
   {"transform":[{"filter":"datum.g=='R'"}],"mark":{"type":"line","interpolate":"natural","color":"#8c8c8c","strokeWidth":1.5,"strokeDash":[1,3.5],"strokeCap":"round","clip":true}},
   {"transform":[{"filter":"datum.s!=null"}],"mark":{"type":"errorbar","clip":true,"ticks":{"size":6},"rule":{"strokeWidth":1}},"encoding":{"yError":{"field":"s"},"color":{"field":"g","type":"nominal","scale":{"domain":["a","b","c","d"],"range":["#404040","#404040","#7f98ff","#ff8a8a"]},"legend":null}}},
   {"transform":[{"filter":"datum.s!=null"}],"mark":{"type":"point","filled":true,"opacity":1,"clip":true},"encoding":{"shape":{"field":"g","type":"nominal","scale":{"domain":["a","b","c","d"],"range":["square","circle","square","circle"]},"legend":null},"color":{"field":"g","type":"nominal","scale":{"domain":["a","b","c","d"],"range":["#000000","#000000","#2f5bff","#ff1a1a"]},"legend":null},"size":{"field":"g","type":"ordinal","scale":{"domain":["a","b","c","d"],"range":[48,62,32,52]},"legend":null}}}
  ],"resolve":{"scale":{"color":"independent"}}},
 {"width":220,"height":165,"data":{"name":"d"},"transform":[{"filter":"datum.p=='RP'"}],"title":{"text":"Pitch Component","dx":8},
  "encoding":{"x":{"field":"x","type":"quantitative","scale":{"domain":[-190,190],"nice":false,"zero":false},"axis":{"values":[-180,-120,-60,0,60,120,180],"labels":false,"title":null}},
   "y":{"field":"m","type":"quantitative","scale":{"domain":[-60,60],"nice":false,"zero":false},"axis":{"values":[-40,-20,0,20,40],"title":null}}},
  "layer":[
   {"transform":[{"filter":"datum.g=='L'"}],"mark":{"type":"line","interpolate":"natural","color":"#2b2b2b","strokeWidth":1.2,"clip":true}},
   {"transform":[{"filter":"datum.g=='R'"}],"mark":{"type":"line","interpolate":"natural","color":"#8c8c8c","strokeWidth":1.5,"strokeDash":[1,3.5],"strokeCap":"round","clip":true}},
   {"transform":[{"filter":"datum.s!=null"}],"mark":{"type":"errorbar","clip":true,"ticks":{"size":6},"rule":{"strokeWidth":1}},"encoding":{"yError":{"field":"s"},"color":{"field":"g","type":"nominal","scale":{"domain":["a","b","c","d"],"range":["#404040","#404040","#7f98ff","#ff8a8a"]},"legend":null}}},
   {"transform":[{"filter":"datum.s!=null"}],"mark":{"type":"point","filled":true,"opacity":1,"clip":true},"encoding":{"shape":{"field":"g","type":"nominal","scale":{"domain":["a","b","c","d"],"range":["square","circle","square","circle"]},"legend":null},"color":{"field":"g","type":"nominal","scale":{"domain":["a","b","c","d"],"range":["#000000","#000000","#2f5bff","#ff1a1a"]},"legend":null},"size":{"field":"g","type":"ordinal","scale":{"domain":["a","b","c","d"],"range":[48,62,32,52]},"legend":null}}}
  ],"resolve":{"scale":{"color":"independent"}}},
 {"width":220,"height":165,"data":{"name":"d"},"transform":[{"filter":"datum.p=='RR'"}],"title":{"text":"Roll Component","dx":11},
  "encoding":{"x":{"field":"x","type":"quantitative","scale":{"domain":[-190,190],"nice":false,"zero":false},"axis":{"values":[-180,-120,-60,0,60,120,180],"labels":false,"title":null}},
   "y":{"field":"m","type":"quantitative","scale":{"domain":[-60,60],"nice":false,"zero":false},"axis":{"values":[-40,-20,0,20,40],"title":null}}},
  "layer":[
   {"transform":[{"filter":"datum.g=='L'"}],"mark":{"type":"line","interpolate":"natural","color":"#2b2b2b","strokeWidth":1.2,"clip":true}},
   {"transform":[{"filter":"datum.g=='R'"}],"mark":{"type":"line","interpolate":"natural","color":"#8c8c8c","strokeWidth":1.5,"strokeDash":[1,3.5],"strokeCap":"round","clip":true}},
   {"transform":[{"filter":"datum.s!=null"}],"mark":{"type":"errorbar","clip":true,"ticks":{"size":6},"rule":{"strokeWidth":1}},"encoding":{"yError":{"field":"s"},"color":{"field":"g","type":"nominal","scale":{"domain":["a","b","c","d"],"range":["#404040","#404040","#7f98ff","#ff8a8a"]},"legend":null}}},
   {"transform":[{"filter":"datum.s!=null"}],"mark":{"type":"point","filled":true,"opacity":1,"clip":true},"encoding":{"shape":{"field":"g","type":"nominal","scale":{"domain":["a","b","c","d"],"range":["square","circle","square","circle"]},"legend":null},"color":{"field":"g","type":"nominal","scale":{"domain":["a","b","c","d"],"range":["#000000","#000000","#2f5bff","#ff1a1a"]},"legend":null},"size":{"field":"g","type":"ordinal","scale":{"domain":["a","b","c","d"],"range":[48,62,32,52]},"legend":null}}}
  ],"resolve":{"scale":{"color":"independent"}}},
 {"width":220,"height":165,"data":{"name":"d"},"transform":[{"filter":"datum.p=='PY'"}],
  "encoding":{"x":{"field":"x","type":"quantitative","scale":{"domain":[-190,190],"nice":false,"zero":false},"axis":{"values":[-180,-120,-60,0,60,120,180],"labels":false,"title":null}},
   "y":{"field":"m","type":"quantitative","scale":{"domain":[-89,90],"nice":false,"zero":false},"axis":{"values":[-80,-40,0,40,80],"title":"Head Pitch (interaural axis)"}}},
  "layer":[
   {"transform":[{"filter":"datum.g=='L'"}],"mark":{"type":"line","interpolate":"natural","color":"#2b2b2b","strokeWidth":1.2,"clip":true}},
   {"transform":[{"filter":"datum.g=='R'"}],"mark":{"type":"line","interpolate":"natural","color":"#8c8c8c","strokeWidth":1.5,"strokeDash":[1,3.5],"strokeCap":"round","clip":true}},
   {"transform":[{"filter":"datum.s!=null"}],"mark":{"type":"errorbar","clip":true,"ticks":{"size":6},"rule":{"strokeWidth":1}},"encoding":{"yError":{"field":"s"},"color":{"field":"g","type":"nominal","scale":{"domain":["a","b","c","d"],"range":["#404040","#404040","#7f98ff","#ff8a8a"]},"legend":null}}},
   {"transform":[{"filter":"datum.s!=null"}],"mark":{"type":"point","filled":true,"opacity":1,"clip":true},"encoding":{"shape":{"field":"g","type":"nominal","scale":{"domain":["a","b","c","d"],"range":["square","circle","square","circle"]},"legend":null},"color":{"field":"g","type":"nominal","scale":{"domain":["a","b","c","d"],"range":["#000000","#000000","#2f5bff","#ff1a1a"]},"legend":null},"size":{"field":"g","type":"ordinal","scale":{"domain":["a","b","c","d"],"range":[48,62,32,52]},"legend":null}}}
  ],"resolve":{"scale":{"color":"independent"}}},
 {"width":220,"height":165,"data":{"name":"d"},"transform":[{"filter":"datum.p=='PP'"}],
  "encoding":{"x":{"field":"x","type":"quantitative","scale":{"domain":[-190,190],"nice":false,"zero":false},"axis":{"values":[-180,-120,-60,0,60,120,180],"labels":false,"title":null}},
   "y":{"field":"m","type":"quantitative","scale":{"domain":[-60,60],"nice":false,"zero":false},"axis":{"values":[-40,-20,0,20,40],"title":null}}},
  "layer":[
   {"transform":[{"filter":"datum.g=='L'"}],"mark":{"type":"line","interpolate":"natural","color":"#2b2b2b","strokeWidth":1.2,"clip":true}},
   {"transform":[{"filter":"datum.g=='R'"}],"mark":{"type":"line","interpolate":"natural","color":"#8c8c8c","strokeWidth":1.5,"strokeDash":[1,3.5],"strokeCap":"round","clip":true}},
   {"transform":[{"filter":"datum.s!=null"}],"mark":{"type":"errorbar","clip":true,"ticks":{"size":6},"rule":{"strokeWidth":1}},"encoding":{"yError":{"field":"s"},"color":{"field":"g","type":"nominal","scale":{"domain":["a","b","c","d"],"range":["#404040","#404040","#7f98ff","#ff8a8a"]},"legend":null}}},
   {"transform":[{"filter":"datum.s!=null"}],"mark":{"type":"point","filled":true,"opacity":1,"clip":true},"encoding":{"shape":{"field":"g","type":"nominal","scale":{"domain":["a","b","c","d"],"range":["square","circle","square","circle"]},"legend":null},"color":{"field":"g","type":"nominal","scale":{"domain":["a","b","c","d"],"range":["#000000","#000000","#2f5bff","#ff1a1a"]},"legend":null},"size":{"field":"g","type":"ordinal","scale":{"domain":["a","b","c","d"],"range":[48,62,32,52]},"legend":null}}}
  ],"resolve":{"scale":{"color":"independent"}}},
 {"width":220,"height":165,"data":{"name":"d"},"transform":[{"filter":"datum.p=='PR'"}],
  "encoding":{"x":{"field":"x","type":"quantitative","scale":{"domain":[-190,190],"nice":false,"zero":false},"axis":{"values":[-180,-120,-60,0,60,120,180],"labels":false,"title":null}},
   "y":{"field":"m","type":"quantitative","scale":{"domain":[-60,60],"nice":false,"zero":false},"axis":{"values":[-40,-20,0,20,40],"title":null}}},
  "layer":[
   {"transform":[{"filter":"datum.g=='L'"}],"mark":{"type":"line","interpolate":"natural","color":"#2b2b2b","strokeWidth":1.2,"clip":true}},
   {"transform":[{"filter":"datum.g=='R'"}],"mark":{"type":"line","interpolate":"natural","color":"#8c8c8c","strokeWidth":1.5,"strokeDash":[1,3.5],"strokeCap":"round","clip":true}},
   {"transform":[{"filter":"datum.s!=null"}],"mark":{"type":"errorbar","clip":true,"ticks":{"size":6},"rule":{"strokeWidth":1}},"encoding":{"yError":{"field":"s"},"color":{"field":"g","type":"nominal","scale":{"domain":["a","b","c","d"],"range":["#404040","#404040","#7f98ff","#ff8a8a"]},"legend":null}}},
   {"transform":[{"filter":"datum.s!=null"}],"mark":{"type":"point","filled":true,"opacity":1,"clip":true},"encoding":{"shape":{"field":"g","type":"nominal","scale":{"domain":["a","b","c","d"],"range":["square","circle","square","circle"]},"legend":null},"color":{"field":"g","type":"nominal","scale":{"domain":["a","b","c","d"],"range":["#000000","#000000","#2f5bff","#ff1a1a"]},"legend":null},"size":{"field":"g","type":"ordinal","scale":{"domain":["a","b","c","d"],"range":[48,62,32,52]},"legend":null}}}
  ],"resolve":{"scale":{"color":"independent"}}},
 {"width":220,"height":165,"data":{"name":"d"},"transform":[{"filter":"datum.p=='YY'"}],
  "encoding":{"x":{"field":"x","type":"quantitative","scale":{"domain":[-190,190],"nice":false,"zero":false},"axis":{"values":[-180,-120,-60,0,60,120,180],"title":null}},
   "y":{"field":"m","type":"quantitative","scale":{"domain":[-89,90],"nice":false,"zero":false},"axis":{"values":[-80,-40,0,40,80],"title":"Head Yaw (superioinferior axis)"}}},
  "layer":[
   {"transform":[{"filter":"datum.g=='L'"}],"mark":{"type":"line","interpolate":"natural","color":"#2b2b2b","strokeWidth":1.2,"clip":true}},
   {"transform":[{"filter":"datum.g=='R'"}],"mark":{"type":"line","interpolate":"natural","color":"#8c8c8c","strokeWidth":1.5,"strokeDash":[1,3.5],"strokeCap":"round","clip":true}},
   {"transform":[{"filter":"datum.s!=null"}],"mark":{"type":"errorbar","clip":true,"ticks":{"size":6},"rule":{"strokeWidth":1}},"encoding":{"yError":{"field":"s"},"color":{"field":"g","type":"nominal","scale":{"domain":["a","b","c","d"],"range":["#404040","#404040","#7f98ff","#ff8a8a"]},"legend":null}}},
   {"transform":[{"filter":"datum.s!=null"}],"mark":{"type":"point","filled":true,"opacity":1,"clip":true},"encoding":{"shape":{"field":"g","type":"nominal","scale":{"domain":["a","b","c","d"],"range":["square","circle","square","circle"]},"legend":null},"color":{"field":"g","type":"nominal","scale":{"domain":["a","b","c","d"],"range":["#000000","#000000","#2f5bff","#ff1a1a"]},"legend":null},"size":{"field":"g","type":"ordinal","scale":{"domain":["a","b","c","d"],"range":[48,62,32,52]},"legend":null}}}
  ],"resolve":{"scale":{"color":"independent"}}},
 {"width":220,"height":165,"data":{"name":"d"},"transform":[{"filter":"datum.p=='YP'"}],
  "encoding":{"x":{"field":"x","type":"quantitative","scale":{"domain":[-190,190],"nice":false,"zero":false},"axis":{"values":[-180,-120,-60,0,60,120,180],"title":"Head Angular Position [Tilt Angle (TA) in degrees]","titleFontWeight":"bold","titlePadding":11}},
   "y":{"field":"m","type":"quantitative","scale":{"domain":[-60,60],"nice":false,"zero":false},"axis":{"values":[-40,-20,0,20,40],"title":null}}},
  "layer":[
   {"transform":[{"filter":"datum.g=='L'"}],"mark":{"type":"line","interpolate":"natural","color":"#2b2b2b","strokeWidth":1.2,"clip":true}},
   {"transform":[{"filter":"datum.g=='R'"}],"mark":{"type":"line","interpolate":"natural","color":"#8c8c8c","strokeWidth":1.5,"strokeDash":[1,3.5],"strokeCap":"round","clip":true}},
   {"transform":[{"filter":"datum.s!=null"}],"mark":{"type":"errorbar","clip":true,"ticks":{"size":6},"rule":{"strokeWidth":1}},"encoding":{"yError":{"field":"s"},"color":{"field":"g","type":"nominal","scale":{"domain":["a","b","c","d"],"range":["#404040","#404040","#7f98ff","#ff8a8a"]},"legend":null}}},
   {"transform":[{"filter":"datum.s!=null"}],"mark":{"type":"point","filled":true,"opacity":1,"clip":true},"encoding":{"shape":{"field":"g","type":"nominal","scale":{"domain":["a","b","c","d"],"range":["square","circle","square","circle"]},"legend":null},"color":{"field":"g","type":"nominal","scale":{"domain":["a","b","c","d"],"range":["#000000","#000000","#2f5bff","#ff1a1a"]},"legend":null},"size":{"field":"g","type":"ordinal","scale":{"domain":["a","b","c","d"],"range":[48,62,32,52]},"legend":null}}}
  ],"resolve":{"scale":{"color":"independent"}}},
 {"vconcat":[
 {"width":220,"height":165,"data":{"name":"d"},"transform":[{"filter":"datum.p=='YR'"}],
  "encoding":{"x":{"field":"x","type":"quantitative","scale":{"domain":[-190,190],"nice":false,"zero":false},"axis":{"values":[-180,-120,-60,0,60,120,180],"title":null}},
   "y":{"field":"m","type":"quantitative","scale":{"domain":[-60,60],"nice":false,"zero":false},"axis":{"values":[-40,-20,0,20,40],"title":null}}},
  "layer":[
   {"transform":[{"filter":"datum.g=='L'"}],"mark":{"type":"line","interpolate":"natural","color":"#2b2b2b","strokeWidth":1.2,"clip":true}},
   {"transform":[{"filter":"datum.g=='R'"}],"mark":{"type":"line","interpolate":"natural","color":"#8c8c8c","strokeWidth":1.5,"strokeDash":[1,3.5],"strokeCap":"round","clip":true}},
   {"transform":[{"filter":"datum.s!=null"}],"mark":{"type":"errorbar","clip":true,"ticks":{"size":6},"rule":{"strokeWidth":1}},"encoding":{"yError":{"field":"s"},"color":{"field":"g","type":"nominal","scale":{"domain":["a","b","c","d"],"range":["#404040","#404040","#7f98ff","#ff8a8a"]},"legend":null}}},
   {"transform":[{"filter":"datum.s!=null"}],"mark":{"type":"point","filled":true,"opacity":1,"clip":true},"encoding":{"shape":{"field":"g","type":"nominal","scale":{"domain":["a","b","c","d"],"range":["square","circle","square","circle"]},"legend":null},"color":{"field":"g","type":"nominal","scale":{"domain":["a","b","c","d"],"range":["#000000","#000000","#2f5bff","#ff1a1a"]},"legend":null},"size":{"field":"g","type":"ordinal","scale":{"domain":["a","b","c","d"],"range":[48,62,32,52]},"legend":null}}}
  ],"resolve":{"scale":{"color":"independent"}}},
 {"width":220,"height":26,
  "data":{"values":[{"s":"c57BL/6J","e":"left eye","k":1,"g":"a"},{"s":"c57BL/6J","e":"right eye","k":2,"g":"b"},{"s":"Nox3","e":"left eye","k":1,"g":"c"},{"s":"Nox3","e":"right eye","k":2,"g":"d"}]},
  "mark":{"type":"point","filled":true,"opacity":1},
  "encoding":{
   "x":{"field":"k","type":"quantitative","scale":{"domain":[-2.936,3.175],"nice":false,"zero":false},"axis":{"orient":"top","values":[1,2],"labelExpr":"datum.value==1?'left eye':'right eye'","title":null,"ticks":false,"tickSize":0,"domain":false,"labelFontSize":10.5,"labelPadding":-2,"labelFlush":false,"labelOverlap":false,"labelOffset":{"condition":{"test":"datum.value==2","value":6},"value":-2}}},
   "y":{"field":"s","type":"nominal","sort":["c57BL/6J","Nox3"],"scale":{"type":"point","padding":0.5},"axis":{"title":null,"ticks":false,"tickSize":0,"domain":false,"offset":-133,"labelFontSize":11,"labelPadding":4}},
   "shape":{"field":"g","type":"nominal","scale":{"domain":["a","b","c","d"],"range":["square","circle","square","circle"]},"legend":null},
   "color":{"field":"g","type":"nominal","scale":{"domain":["a","b","c","d"],"range":["#000000","#000000","#2f5bff","#ff1a1a"]},"legend":null},
   "size":{"field":"g","type":"ordinal","scale":{"domain":["a","b","c","d"],"range":[28,34,26,36]},"legend":null}},
  "view":{"stroke":null}}
 ],"spacing":29,"bounds":"flush"}
 ]}
],
"config":{
 "font":"Liberation Sans",
 "view":{"stroke":"#707070","strokeWidth":1.5},
 "axis":{"grid":false,"domain":false,"tickColor":"#707070","tickSize":-4,"tickWidth":1,"labelFontSize":13,"labelColor":"#000000","labelPadding":7,"titleFontSize":13,"titleFontWeight":"normal","titleColor":"#000000","titlePadding":1},
 "axisX":{"labelPadding":11},
 "title":{"fontSize":13,"fontWeight":"normal","color":"#000000","offset":5}
}
}
